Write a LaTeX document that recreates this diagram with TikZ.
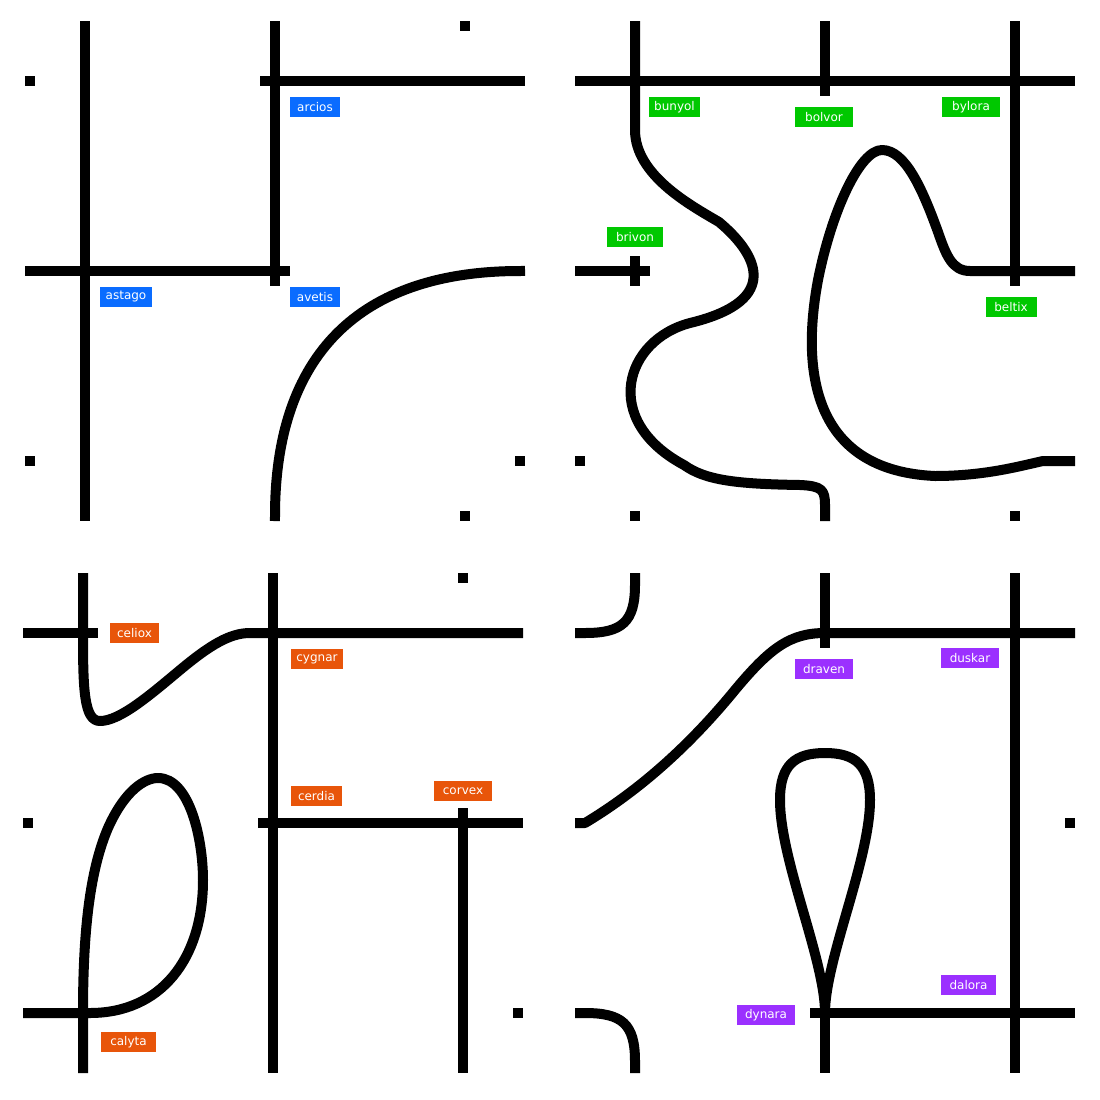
\documentclass[tikz,border=0pt]{standalone}
\usepackage{fontspec}
\newfontfamily\labfont{DejaVu Sans}
\usetikzlibrary{calc}
\definecolor{cblue}{RGB}{10,108,255}
\definecolor{cgreen}{RGB}{0,200,0}
\definecolor{corange}{RGB}{232,85,10}
\definecolor{cpurple}{RGB}{155,48,255}
\begin{document}
\begin{tikzpicture}[x=1pt,y=-1pt,
  wire/.style={line width=10pt,line cap=rect,line join=round},
  dotmark/.style={fill=black,draw=none,minimum size=10pt,inner sep=0pt},
  lbl/.style={fill=#1,text=white,draw=none,inner sep=0pt,minimum height=20pt,
    font=\labfont\fontsize{12}{14}\selectfont}]
\fill[white] (0,0) rectangle (1100,1100);
\useasboundingbox (0,0) rectangle (1100,1100);
% grid points of the four panels
\foreach \px/\py/\p in {0/0/a,550/0/b,-2/552/c,550/552/d}{
  \foreach \gx [count=\i] in {30,85,275,465,520}{
    \foreach \gy [count=\j] in {26,81,271,461,516}{
      \coordinate (\p\i\j) at (\px+\gx,\py+\gy);
    }}}
% ---------------- panel a
\draw[wire] (a21) -- (a25);
\draw[wire] (a13) -- ($(a33)+(10,0)$);
\draw[wire] (a31) -- ($(a33)+(0,10)$);
\draw[wire] ($(a32)+(-10,0)$) -- (a52);
\draw[wire] (a35) .. controls ($(a35)+(0,-161)$) and ($(a53)+(-161,0)$) .. (a53);
\foreach \d in {a12,a41,a14,a54,a45} \node[dotmark] at (\d) {};
\node[lbl=cblue,minimum width=50pt] (arcios) at (315,107) {arcios};
\node[lbl=cblue,minimum width=52pt] (astago) at (126,297) {astago};
\node[lbl=cblue,minimum width=50pt] (avetis) at (315,297) {avetis};
% ---------------- panel b
\draw[wire] (b12) -- (b52);
\draw[wire] (b31) -- ($(b32)+(0,10)$);
\draw[wire] (b41) -- ($(b43)+(0,10)$);
\draw[wire] (b13) -- ($(b23)+(10,0)$);
\draw[wire] ($(b23)+(0,-10)$) -- ($(b23)+(0,10)$);
\draw[wire] (b21) -- (635,130) .. controls (635,175) and (690,205) .. (719,222)
  .. controls (755,252) and (785,300) .. (690,323)
  .. controls (625,340) and (600,420) .. (684,465)
  .. controls (705,480) and (735,484) .. (800,485)
  .. controls (822,486) and (825,490) .. (825,505) -- (b35);
\draw[wire] (b53) -- (970,271) .. controls (952,271) and (946,255) .. (938,232)
  .. controls (922,188) and (905,150) .. (882,150)
  .. controls (860,150) and (832,210) .. (818,280)
  .. controls (805,350) and (800,470) .. (935,476)
  .. controls (985,476) and (1020,466) .. (1043,461) -- (b54);
\foreach \d in {b14,b25,b45} \node[dotmark] at (\d) {};
\node[lbl=cgreen,minimum width=51pt] (bunyol) at (674.5,107) {bunyol};
\node[lbl=cgreen,minimum width=58pt] (bolvor) at (824,117) {bolvor};
\node[lbl=cgreen,minimum width=58pt] (bylora) at (971,107) {bylora};
\node[lbl=cgreen,minimum width=56pt] (brivon) at (635,237) {brivon};
\node[lbl=cgreen,minimum width=51pt] (beltix) at (1011,307) {beltix};
% ---------------- panel c
\draw[wire] (c31) -- (c35);
\draw[wire] ($(c33)+(-10,0)$) -- (c53);
\draw[wire] (c45) -- ($(c43)+(0,-10)$);
\draw[wire] (c12) -- ($(c22)+(10,0)$);
\draw[wire] (c21) -- (c22) .. controls (83,690) and (84,721) .. (100,721)
  .. controls (120,721) and (150,695) .. (180,670)
  .. controls (210,645) and (230,633) .. (250,633) -- (c52);
\draw[wire] (c25) -- (c24) .. controls (83,930) and (90,870) .. (108,828)
  .. controls (125,790) and (145,778) .. (158,778)
  .. controls (190,778) and (203,840) .. (203,880)
  .. controls (203,960) and (160,1013) .. (90,1013) -- (c14);
\foreach \d in {c41,c13,c54} \node[dotmark] at (\d) {};
\node[lbl=corange,minimum width=49pt] (celiox) at (134.5,633) {celiox};
\node[lbl=corange,minimum width=52pt] (cygnar) at (317,659) {cygnar};
\node[lbl=corange,minimum width=51pt] (cerdia) at (316.5,796) {cerdia};
\node[lbl=corange,minimum width=58pt] (corvex) at (463,791) {corvex};
\node[lbl=corange,minimum width=55pt] (calyta) at (128.5,1042) {calyta};
% ---------------- panel d
\draw[wire] (d12) -- (585,633) .. controls (622,633) and (635,622) .. (635,585) -- (d21);
\draw[wire] (d14) -- (585,1013) .. controls (622,1013) and (635,1024) .. (635,1061) -- (d25);
\draw[wire] (d13) -- (585,823) .. controls (640,790) and (690,745) .. (735,690)
  .. controls (770,648) and (790,633) .. (825,633) -- (d52);
\draw[wire] (d31) -- ($(d32)+(0,10)$);
\draw[wire] (d41) -- (d45);
\draw[wire] ($(d34)+(-10,0)$) -- (d54);
\draw[wire] (d35) -- (d34);
\draw[wire] (d34) .. controls (825,960) and (780,860) .. (780,800)
  .. controls (780,765) and (795,753) .. (825,753)
  .. controls (855,753) and (870,765) .. (870,800)
  .. controls (870,860) and (825,960) .. (d34);
\node[dotmark] at (d53) {};
\node[lbl=cpurple,minimum width=58pt] (draven) at (824,669) {draven};
\node[lbl=cpurple,minimum width=58pt] (duskar) at (970,658) {duskar};
\node[lbl=cpurple,minimum width=55pt] (dalora) at (968.5,985) {dalora};
\node[lbl=cpurple,minimum width=58pt] (dynara) at (766,1015) {dynara};
\end{tikzpicture}
\end{document}
